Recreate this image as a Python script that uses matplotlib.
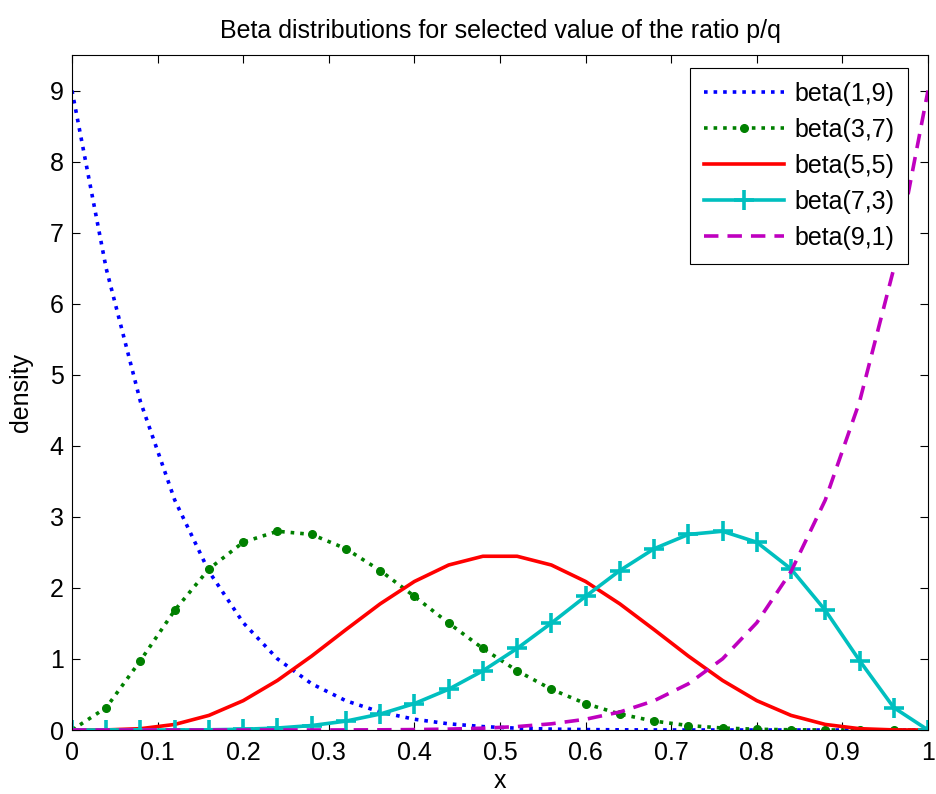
import numpy as np
import matplotlib
matplotlib.use("Agg")
import matplotlib.pyplot as plt

plt.rcParams['font.family'] = ['Liberation Sans', 'DejaVu Sans']

# sample points, step 0.04
x = np.linspace(0, 1, 26)

beta_1_9 = [9.0, 6.4925, 4.619, 3.2368, 2.2309, 1.51, 1.0017, 0.65, 0.4114, 0.2533,
            0.1512, 0.0871, 0.0481, 0.0254, 0.0126, 0.0059, 0.0025, 0.001, 0.0003, 0.0001,
            0.0, 0.0, 0.0, 0.0, 0.0, 0.0]
beta_3_7 = [0.0, 0.3156, 0.9779, 1.6852, 2.2663, 2.6424, 2.7971, 2.7524, 2.5512, 2.2443,
            1.8812, 1.5046, 1.1479, 0.8334, 0.5734, 0.3716, 0.2247, 0.1251, 0.063, 0.0278,
            0.0103, 0.003, 0.0006, 0.0001, 0.0, 0.0]
beta_5_5 = [0.0, 0.0014, 0.0185, 0.0783, 0.2056, 0.4129, 0.6973, 1.0407, 1.4125, 1.7753,
            2.0902, 2.3222, 2.4452, 2.4452, 2.3222, 2.0902, 1.7753, 1.4125, 1.0407, 0.6973,
            0.4129, 0.2056, 0.0783, 0.0185, 0.0014, 0.0]
beta_7_3 = beta_3_7[::-1]
beta_9_1 = beta_1_9[::-1]

fig = plt.figure(figsize=(9.37, 7.94), dpi=100)
ax = fig.add_axes([72/937, 64/794, 856/937, 675/794])

ax.plot(x, beta_1_9, ':', color=(0, 0, 1), lw=2.6, label='beta(1,9)')
ax.plot(x, beta_3_7, ':', color=(0, 0.5, 0), lw=2.6, marker='.', markersize=11,
        label='beta(3,7)')
ax.plot(x, beta_5_5, '-', color=(1, 0, 0), lw=2.6, label='beta(5,5)')
ax.plot(x, beta_7_3, '-', color=(0, 0.75, 0.75), lw=2.6, marker='+', markersize=15,
        markeredgewidth=2.6, label='beta(7,3)')
ax.plot(x, beta_9_1, '--', color=(0.75, 0, 0.75), lw=2.6, dashes=(4, 2.5),
        label='beta(9,1)')

ax.set_xlim(0, 1)
ax.set_ylim(0, 9.5)
ax.set_xticks(np.arange(0, 1.01, 0.1))
ax.set_xticklabels(['0', '0.1', '0.2', '0.3', '0.4', '0.5', '0.6', '0.7', '0.8', '0.9', '1'])
ax.set_yticks(range(10))
ax.tick_params(direction='in', top=True, right=True, labelsize=18, length=6)
ax.tick_params(axis='y', pad=6)
ax.tick_params(axis='x', pad=8)
for s in ax.spines.values():
    s.set_linewidth(0.8)

ax.set_title('Beta distributions for selected value of the ratio p/q', fontsize=18, pad=12)
ax.set_xlabel('x', fontsize=18, labelpad=3)
ax.set_ylabel('density', fontsize=18, labelpad=12)

leg = ax.legend(loc='upper right', bbox_to_anchor=(908/937, 726/794),
                bbox_transform=fig.transFigure, fontsize=18, fancybox=False,
                framealpha=1, edgecolor='black', handlelength=3.2, borderaxespad=0,
                labelspacing=0.48, handletextpad=0.4, borderpad=0.55)
leg.get_frame().set_linewidth(0.8)

fig.savefig('out.png', dpi=100)
